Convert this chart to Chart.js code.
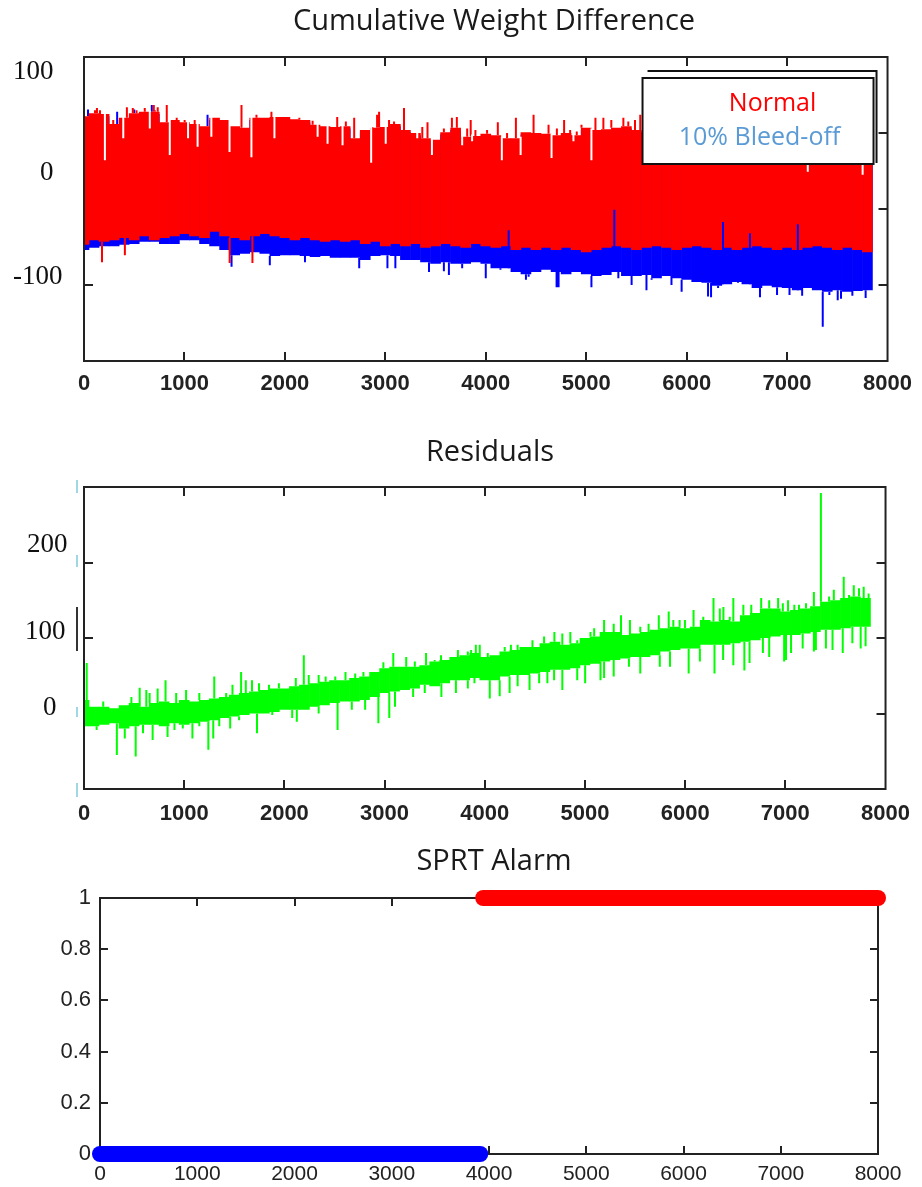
<!DOCTYPE html>
<html>
<head>
<meta charset="utf-8">
<script src="https://cdn.jsdelivr.net/npm/chart.js@4.4.1/dist/chart.umd.min.js"></script>
<style>
  body { margin: 0; background: #fff; }
  #wrap { position: relative; width: 922px; height: 1187px; }
  canvas { position: absolute; left: 0; }
</style>
</head>
<body>
<div id="wrap">
  <canvas id="weightChart" width="922" height="400" style="top:0"></canvas>
  <canvas id="residualChart" width="922" height="400" style="top:430px"></canvas>
  <canvas id="sprtChart" width="922" height="347" style="top:840px"></canvas>
</div>
<script>
// samples per envelope bin (x axis is sample number)
const binStep = 100;

// ---- Cumulative Weight Difference: envelope of each trace per 100-sample bin
const seriesNames = ["Normal", "10% Bleed-off"];
const weightNormalTop = [122,126,125,112,120,126,128,128,114,117,
  114,112,109,120,117,109,107,120,120,121,
  121,118,117,111,109,108,109,93,104,107,
  108,112,104,100,93,91,101,107,95,96,
  99,97,93,93,101,100,99,97,100,97,
  107,104,105,107,109,104,100,103,98,101,
  104,99,102,100,97,103,101,98,104,100,
  99,102,100,98,103,101,99,102,100];
const weightNormalBottom = [-47,-41,-43,-41,-38,-41,-36,-41,-38,-36,
  -33,-36,-38,-30,-36,-38,-41,-36,-33,-36,
  -38,-41,-38,-41,-43,-41,-43,-41,-46,-43,
  -49,-46,-49,-46,-51,-49,-46,-49,-51,-46,
  -49,-51,-49,-54,-51,-54,-51,-54,-51,-54,
  -57,-54,-51,-49,-51,-54,-51,-49,-51,-54,
  -51,-49,-51,-54,-51,-54,-51,-49,-51,-54,
  -51,-54,-51,-49,-51,-54,-51,-54,-57];
const weightBleedBottom = [-54,-51,-49,-49,-47,-46,-43,-43,-46,-46,
  -41,-41,-46,-49,-54,-61,-59,-57,-59,-62,
  -61,-61,-62,-63,-62,-64,-64,-64,-67,-62,
  -61,-62,-67,-67,-70,-72,-70,-72,-72,-70,
  -72,-78,-78,-83,-86,-83,-80,-83,-86,-83,
  -86,-88,-87,-83,-88,-88,-87,-91,-88,-91,
  -93,-96,-97,-101,-99,-96,-99,-104,-101,-103,
  -104,-107,-104,-107,-109,-107,-109,-108,-107];

// single-sample excursions beyond the envelope (sample, value)
const normalPeakAt = [109,129,159,291,427,486,523,605,695,705,734,824,923,1002,1102,1367,1568,1717,1866,1945,1995,2144,2210,2276,2521,2607,2690,2872,2918,2938,3037,3087,3186,3368,3420,3583,3663,3712,3815,3850,3897,4013,4120,4212,4300,4476,4625,4708,4780,4840,4906,4953,5092,5171,5250,5370,5419,5486,5538];
const normalPeakVal = [130,133,130,117,134,133,130,133,137,130,134,137,120,117,117,113,137,124,128,115,121,120,117,116,121,115,120,108,124,128,117,115,133,108,114,106,120,121,106,117,104,104,114,100,120,124,111,106,117,104,102,111,120,120,117,120,115,117,124];
const normalDipAt = [179, 407, 1450, 1677];
const normalDipVal = [-70, -61, -71, -71];
const normalNotchAt = [208,391,655,854,1036,1131,1268,1449,1667,1896,2326,2425,2574,2859,3004,3318,3464,3765,3864,4160,4347,4655,4873,5052,6045,7206,7752];
const normalNotchVal = [64,93,106,71,93,82,95,75,68,93,95,86,84,61,86,93,71,84,89,64,71,67,89,64,58,49,45];
const bleedPeakAt = [40, 330, 500, 675, 1230];
const bleedPeakVal = [131, 128, 131, 137, 124];
const bleedDipAt = [1469,1850,2200,2740,3021,3100,3435,3583,3633,3765,4000,4146,4400,4427,4705,4725,5052,5320,5452,5600,5651,5849,5950,6213,6243,6313,6511,6730,6900,7024,7150,7355,7421,7504,7537,7650,7782];
const bleedDipVal = [-76,-74,-70,-78,-78,-78,-83,-82,-87,-78,-91,-80,-93,-89,-103,-103,-103,-91,-100,-107,-93,-100,-109,-115,-116,-104,-97,-116,-113,-113,-114,-155,-113,-120,-118,-114,-117];
const bleedRiseAt = [4228, 5280, 6362, 6630, 7107];
const bleedRiseVal = [-28, -1, -17, -32, -20];

// ---- Residuals
const residualTop = [18,9,9,7,11,14,9,14,16,14,
  18,16,18,20,22,25,27,29,31,33,
  33,36,38,40,42,44,44,47,49,55,
  60,62,62,62,64,69,71,75,77,80,
  75,77,82,84,88,88,93,95,91,93,
  100,102,108,108,104,106,108,111,113,115,
  113,115,124,122,124,122,130,133,139,139,
  135,137,139,142,148,150,153,155,153];
const residualBottom = [-17,-17,-15,-13,-20,-17,-15,-15,-17,-13,
  -15,-13,-11,-9,-6,-4,-2,0,0,2,
  5,5,5,9,11,14,16,16,18,22,
  27,29,31,33,38,36,40,44,44,47,
  44,44,49,51,51,53,55,58,58,60,
  64,66,69,71,73,75,75,77,82,84,
  86,86,91,91,91,93,95,97,100,102,
  104,104,106,108,111,111,113,115,115];
const residualPeakAt = [27,192,473,556,622,655,735,814,920,1019,1151,1300,1419,1482,1568,1615,1677,1747,1846,1945,2114,2194,2243,2342,2412,2508,2610,2707,2789,2872,2988,3087,3216,3302,3414,3500,3563,3666,3732,3831,3864,3911,3950,4030,4199,4261,4328,4476,4592,4695,4774,4854,4923,4973,5055,5092,5191,5287,5360,5449,5552,5635,5737,5836,5882,5945,5998,6084,6181,6283,6346,6382,6445,6481,6581,6660,6759,6839,6928,6975,7027,7090,7136,7206,7285,7355,7437,7484,7537,7583,7636,7683,7735,7782,7831];
const residualPeakVal = [67,16,22,34,31,27,33,44,27,31,27,49,27,38,55,44,44,40,38,40,47,77,51,51,49,49,55,53,55,55,68,80,75,69,80,71,77,75,84,82,84,91,91,80,88,91,91,97,102,108,106,108,97,97,108,113,124,119,130,124,115,119,130,135,124,124,124,137,128,153,139,141,128,153,144,144,153,150,153,146,150,144,144,146,161,292,155,164,150,181,157,170,166,168,159];
const residualDipAt = [126,328,407,516,589,685,834,903,986,1082,1151,1241,1290,1350,1459,1548,1727,1879,2078,2124,2342,2531,2673,2806,2938,3047,3104,3285,3401,3567,3712,3831,3897,4050,4149,4248,4328,4447,4543,4625,4692,4774,4923,5002,5155,5191,5287,5439,5552,5747,5849,6035,6147,6293,6379,6481,6591,6643,6776,6839,6988,7007,7057,7173,7285,7305,7405,7471,7573,7669,7752,7801];
const residualDipVal = [-22,-55,-33,-57,-26,-35,-31,-22,-20,-33,-17,-48,-33,-17,-20,-9,-26,-2,-6,-11,0,-22,5,5,-13,-6,9,22,27,22,27,33,40,20,23,27,36,31,40,40,44,31,44,40,44,47,49,62,53,62,62,53,69,53,71,64,57,67,80,75,69,71,80,86,82,84,86,84,80,93,86,89];

// ---- SPRT alarm: 0 until the bleed-off is detected, then 1
const alarmStart = [0, 3940];
const alarmEnd = [3910, 8000];
const alarmLevel = [0, 1];

// y-axis label texts (pasted in the original, not on the ticks)
const weightLabelText = ["100", "0", "-100"];
const weightLabelAt = [181, 47, -89];
const residualLabelText = ["200", "100", "0"];
const residualLabelAt = [223, 108, 7];

Chart.defaults.font.family = "'Liberation Sans', Arial, sans-serif";
Chart.defaults.animation = false;

function bodyBars(lo, hi) {
  return lo.map((v, i) => ({ x: i * binStep, y: [v, hi[i]] }));
}

// vertical strokes from each excursion back to the envelope
function strokes(at, tip, base) {
  const pts = [];
  at.forEach((s, i) => {
    const b = base[Math.min(base.length - 1, Math.round(s / binStep))];
    pts.push({ x: s, y: tip[i] }, { x: s, y: b }, { x: s, y: null });
  });
  return pts;
}

function drawFrame(ctx, a) {
  ctx.strokeStyle = "#222";
  ctx.lineWidth = 2;
  ctx.strokeRect(a.left, a.top, a.right - a.left, a.bottom - a.top);
}

const matlabAxes = {
  id: "matlabAxes",
  beforeDatasetsDraw(chart, args, opts) {
    const { ctx, chartArea: a, scales: { x, y } } = chart;
    ctx.save();
    ctx.strokeStyle = "#222";
    ctx.lineWidth = 2;
    ctx.beginPath();
    x.ticks.forEach(t => {
      if (t.value <= x.min || t.value >= x.max) return;
      const px = Math.round(x.getPixelForValue(t.value));
      ctx.moveTo(px, a.bottom); ctx.lineTo(px, a.bottom - opts.tickLen);
      ctx.moveTo(px, a.top); ctx.lineTo(px, a.top + opts.tickLen);
    });
    y.ticks.forEach(t => {
      if (t.value <= y.min || t.value >= y.max) return;
      const py = Math.round(y.getPixelForValue(t.value));
      ctx.moveTo(a.left, py); ctx.lineTo(a.left + opts.tickLen, py);
      ctx.moveTo(a.right, py); ctx.lineTo(a.right - opts.tickLen, py);
    });
    ctx.stroke();
    if (!opts.frameOnTop) drawFrame(ctx, a);
    ctx.restore();
  },
  afterDatasetsDraw(chart, args, opts) {
    if (!opts.frameOnTop) return;
    chart.ctx.save();
    drawFrame(chart.ctx, chart.chartArea);
    chart.ctx.restore();
  },
  afterDraw(chart, args, opts) {
    const { ctx, scales: { y } } = chart;
    ctx.save();
    ctx.fillStyle = "#1a1a1a";
    ctx.textAlign = "center";
    ctx.textBaseline = "middle";
    ctx.font = "29px 'Open Sans'";
    ctx.fillText(opts.title, opts.titleX, opts.titleY);
    ctx.textAlign = "left";
    ctx.font = "27px 'Liberation Serif'";
    ctx.fillStyle = "#111";
    (opts.labels || []).forEach((txt, i) => {
      ctx.fillText(txt, opts.labelX[i], y.getPixelForValue(opts.labelAt[i]));
    });
    if (opts.marks) {
      // stray marks left of the residual axis
      ctx.lineWidth = 2;
      ctx.strokeStyle = "#333";
      ctx.beginPath(); ctx.moveTo(77, 177); ctx.lineTo(77, 221); ctx.stroke();
      ctx.strokeStyle = "#9fd8e2";
      ctx.beginPath();
      [[50, 63], [125, 137], [277, 287], [353, 367]].forEach(([a, b]) => { ctx.moveTo(77, a); ctx.lineTo(77, b); });
      ctx.stroke();
    }
    ctx.restore();
  }
};

const weightLegend = {
  id: "weightLegend",
  afterDatasetsDraw(chart) {
    const { ctx, chartArea: a } = chart;
    const L = a.right - 245, T = a.top + 21, R = a.right - 14, B = a.top + 107;
    ctx.save();
    ctx.fillStyle = "#fff";
    ctx.fillRect(L, T, R - L, B - T);
    ctx.strokeStyle = "#111";
    ctx.lineWidth = 2;
    ctx.strokeRect(L, T, R - L, B - T);
    ctx.beginPath();
    ctx.moveTo(L + 5, a.top + 14);
    ctx.lineTo(a.right - 11, a.top + 14);
    ctx.lineTo(a.right - 11, B - 1);
    ctx.stroke();
    ctx.font = "25px 'Open Sans'";
    ctx.textAlign = "center";
    ctx.textBaseline = "middle";
    ctx.fillStyle = "#ff0000";
    ctx.fillText(seriesNames[0], a.right - 115, a.top + 47);
    ctx.fillStyle = "#5b9bd5";
    ctx.fillText(seriesNames[1], a.right - 128, a.top + 81);
    ctx.restore();
  }
};

const plainNumber = v => String(+Number(v).toFixed(1));

function xAxis(height, pad, font) {
  return {
    type: "linear", min: 0, max: 8000, offset: false,
    ticks: { stepSize: 1000, padding: pad, font: font, color: "#222", maxRotation: 0, autoSkip: false, callback: plainNumber },
    grid: { display: false, drawTicks: false },
    border: { display: false },
    afterFit: s => { s.height = height; }
  };
}

function yAxis(width, min, max, step, showLabels) {
  return {
    min: min, max: max,
    ticks: { stepSize: step, display: showLabels, padding: 9, font: { size: 22 }, color: "#222", callback: plainNumber },
    grid: { display: false, drawTicks: false },
    border: { display: false },
    afterFit: s => { s.width = width; }
  };
}

const bodyStyle = { type: "bar", grouped: false, barPercentage: 1.06, categoryPercentage: 1, borderWidth: 0, clip: 0 };
const strokeStyle = { type: "line", borderWidth: 2, pointRadius: 0, tension: 0, spanGaps: false };

// ---- chart 1
new Chart(document.getElementById("weightChart"), {
  type: "bar",
  data: {
    datasets: [
      { ...bodyStyle, label: seriesNames[1], data: bodyBars(weightBleedBottom, weightNormalTop.map(v => v - 3)), backgroundColor: "#0000ff", order: 10 },
      { ...strokeStyle, data: strokes(bleedPeakAt, bleedPeakVal, weightNormalTop), borderColor: "#0000ff", order: 9 },
      { ...strokeStyle, data: strokes(bleedDipAt, bleedDipVal, weightBleedBottom), borderColor: "#0000ff", order: 9 },
      { ...bodyStyle, label: seriesNames[0], data: bodyBars(weightNormalBottom, weightNormalTop), backgroundColor: "#ff0000", order: 5 },
      { ...strokeStyle, data: strokes(normalPeakAt, normalPeakVal, weightNormalTop), borderColor: "#ff0000", order: 4 },
      { ...strokeStyle, data: strokes(normalDipAt, normalDipVal, weightNormalBottom), borderColor: "#ff0000", order: 4 },
      { ...strokeStyle, data: strokes(normalNotchAt, normalNotchVal, weightNormalTop.map(v => v + 2)), borderColor: "#ffffff", order: 3 },
      { ...strokeStyle, data: strokes(bleedRiseAt, bleedRiseVal, weightBleedBottom), borderColor: "#0000ff", order: 2 }
    ]
  },
  options: {
    responsive: false,
    events: [],
    layout: { padding: { top: 57, right: 32, left: 0, bottom: 0 } },
    scales: {
      x: xAxis(39, 10, { size: 22, weight: "bold" }),
      y: yAxis(84, -200, 200, 100, false)
    },
    plugins: {
      legend: { display: false },
      tooltip: { enabled: false },
      matlabAxes: { tickLen: 9, frameOnTop: true, title: "Cumulative Weight Difference", titleX: 494, titleY: 22,
        labels: weightLabelText, labelAt: weightLabelAt, labelX: [13, 40, 13] }
    }
  },
  plugins: [matlabAxes, weightLegend]
});

// ---- chart 2
new Chart(document.getElementById("residualChart"), {
  type: "bar",
  data: {
    datasets: [
      { ...bodyStyle, label: "Residuals", data: bodyBars(residualBottom, residualTop), backgroundColor: "#00ff00", order: 5 },
      { ...strokeStyle, data: strokes(residualPeakAt, residualPeakVal, residualTop), borderColor: "#00ff00", order: 4 },
      { ...strokeStyle, data: strokes(residualDipAt, residualDipVal, residualBottom), borderColor: "#00ff00", order: 4 }
    ]
  },
  options: {
    responsive: false,
    events: [],
    layout: { padding: { top: 57, right: 32, left: 0, bottom: 0 } },
    scales: {
      x: xAxis(41, 12, { size: 22, weight: "bold" }),
      y: yAxis(84, -100, 300, 100, false)
    },
    plugins: {
      legend: { display: false },
      tooltip: { enabled: false },
      matlabAxes: { tickLen: 9, frameOnTop: true, title: "Residuals", titleX: 490, titleY: 23,
        labels: residualLabelText, labelAt: residualLabelAt, labelX: [27, 25, 43], marks: true }
    }
  },
  plugins: [matlabAxes]
});

// ---- chart 3
const alarmColors = ["#0000ff", "#ff0000"];
new Chart(document.getElementById("sprtChart"), {
  type: "line",
  data: {
    datasets: alarmLevel.map((lvl, i) => ({
      data: [{ x: alarmStart[i], y: lvl }, { x: alarmEnd[i], y: lvl }],
      borderColor: alarmColors[i],
      borderWidth: 16,
      borderCapStyle: "round",
      pointRadius: 0,
      clip: false
    }))
  },
  options: {
    responsive: false,
    events: [],
    layout: { padding: { top: 58, right: 44, left: 0, bottom: 0 } },
    scales: {
      x: xAxis(33, 8, { size: 21 }),
      y: yAxis(100, 0, 1, 0.2, true)
    },
    plugins: {
      legend: { display: false },
      tooltip: { enabled: false },
      matlabAxes: { tickLen: 8, frameOnTop: false, title: "SPRT Alarm", titleX: 494, titleY: 22 }
    }
  },
  plugins: [matlabAxes]
});
</script>
</body>
</html>
